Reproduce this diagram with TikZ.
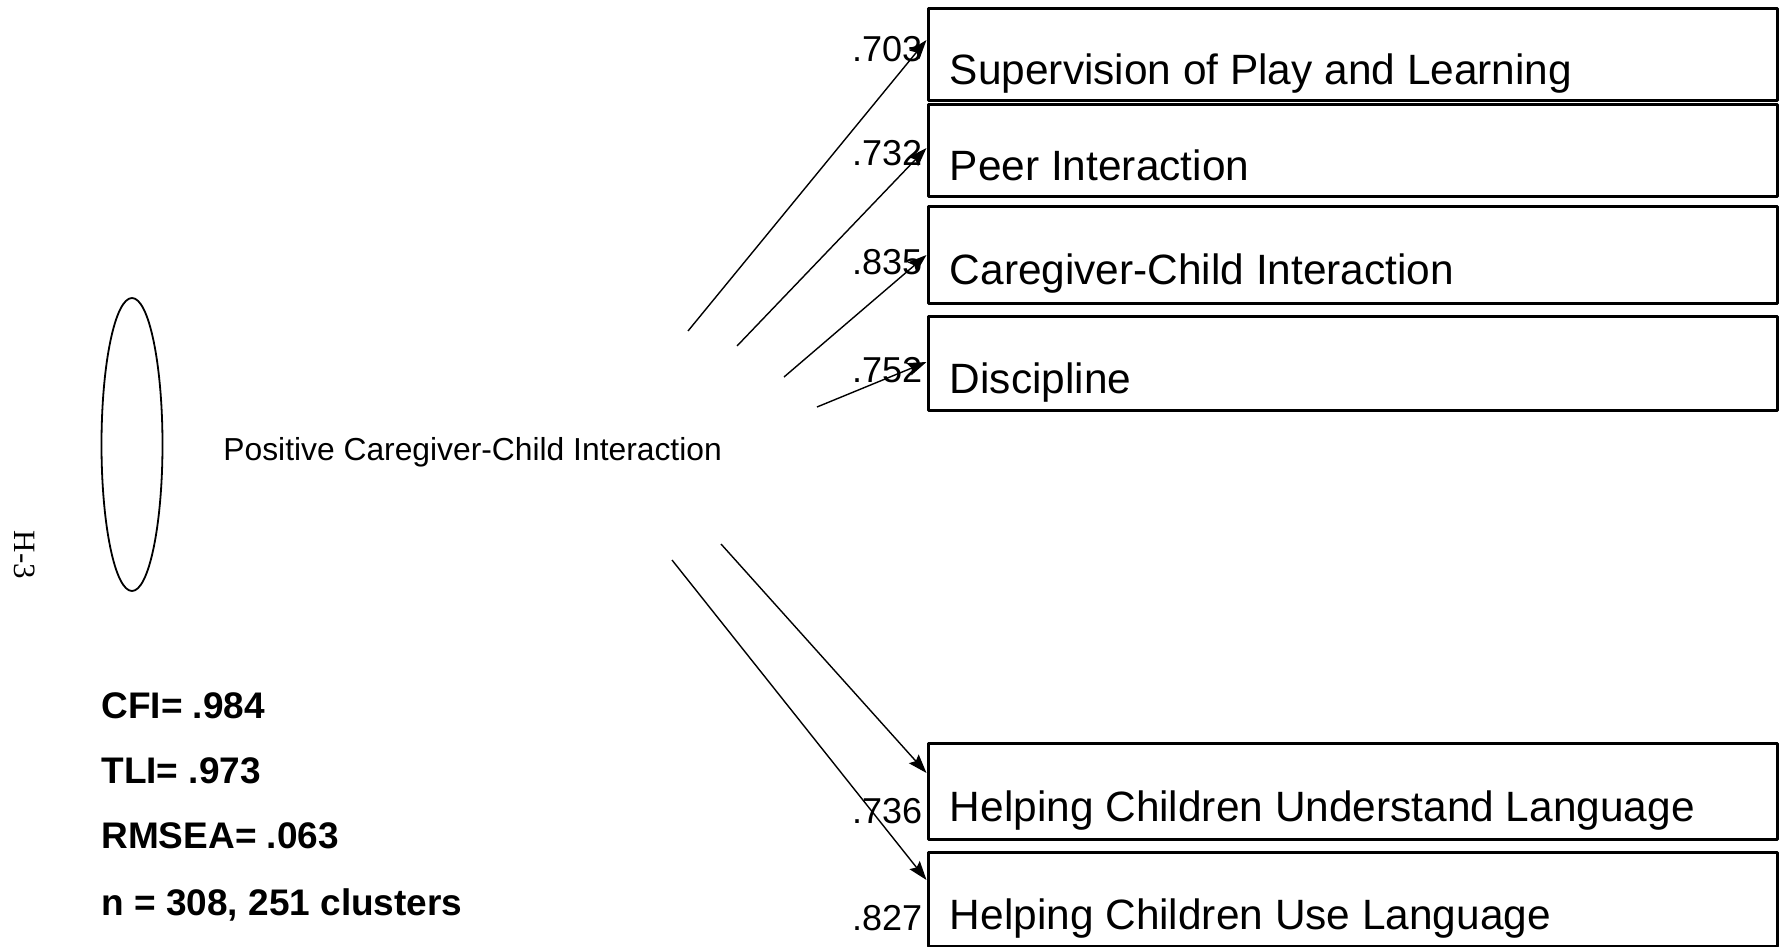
\documentclass[tikz,border=0pt]{standalone}
\usepackage{fontspec}
\setmainfont{Liberation Sans}
\newfontfamily\pageserif{Liberation Serif}
\usetikzlibrary{arrows.meta,shapes.geometric}
\begin{document}
\begin{tikzpicture}[x=0.5pt,y=-0.5pt,>={Stealth[length=9.5pt,width=6.5pt,inset=1.5pt]}, line join=round,
	obsbox/.style={draw,line width=1.5pt,minimum width=424.5pt,inner sep=0pt},
	boxtext/.style={anchor=base west,inner sep=0pt,font=\fontsize{21.2}{25}\selectfont},
	loadnum/.style={anchor=base east,inner sep=0pt,font=\fontsize{18}{22}\selectfont},
	fitstat/.style={anchor=base west,inner sep=0pt,font=\fontsize{18.5}{22}\selectfont\bfseries},
	loading/.style={->,line width=0.7pt}]
	\useasboundingbox (0,0) rectangle (1779,947);
	% Latent factor
	\node[ellipse,draw,line width=0.9pt,minimum width=30.5pt,minimum height=146.5pt,inner sep=0pt] (pcci) at (132,444.5) {};
	\node[anchor=base west,inner sep=0pt,font=\fontsize{15.9}{19}\selectfont] (pcci-t) at (223,460) {Positive Caregiver-Child Interaction};
	% Indicators
	\foreach \name/\yc/\h/\txt in {sup/55/92/Supervision of Play and Learning, peer/151/92/Peer Interaction,
		cci/255/96/Caregiver-Child Interaction, disc/363/94/Discipline,
		und/791/96/Helping Children Understand Language, use/899/94/Helping Children Use Language}{
		\node[obsbox,minimum height=\h*0.5pt] (\name) at (1352.5,\yc) {};
		\node[boxtext] (\name-t) at ([shift={(23,30)}]\name.west) {\txt};
	}
	% Loadings
	\coordinate (s1) at (688,331); \coordinate (s2) at (737,346);
	\coordinate (s3) at (784,377); \coordinate (s4) at (817,407);
	\coordinate (s5) at (721,544); \coordinate (s6) at (672,560);
	\foreach \s/\name/\dy/\ny/\num in {s1/sup/-15/7/.703, s2/peer/-3/15/.732, s3/cci/0/19/.835,
		s4/disc/-1/19/.752, s5/und/-18/32/.736, s6/use/-19/31/.827}{
		\draw[loading] (\s) -- ([shift={(0,\dy)}]\name.west);
		\node[loadnum] (\name-n) at ([shift={(-4,\ny)}]\name.west) {\num};
	}
	% Fit indices
	\node[fitstat] (cfi) at (101,718) {CFI= .984};
	\node[fitstat] (tli) at (101,783) {TLI= .973};
	\node[fitstat] (rmsea) at (101,848) {RMSEA= .063};
	\node[fitstat] (nobs) at (101,915) {n = 308, 251 clusters};
	\node[rotate=-90,inner sep=0pt,font=\pageserif\fontsize{15.5}{18}\selectfont] (page) at (25,555) {H-3};
\end{tikzpicture}
\end{document}
